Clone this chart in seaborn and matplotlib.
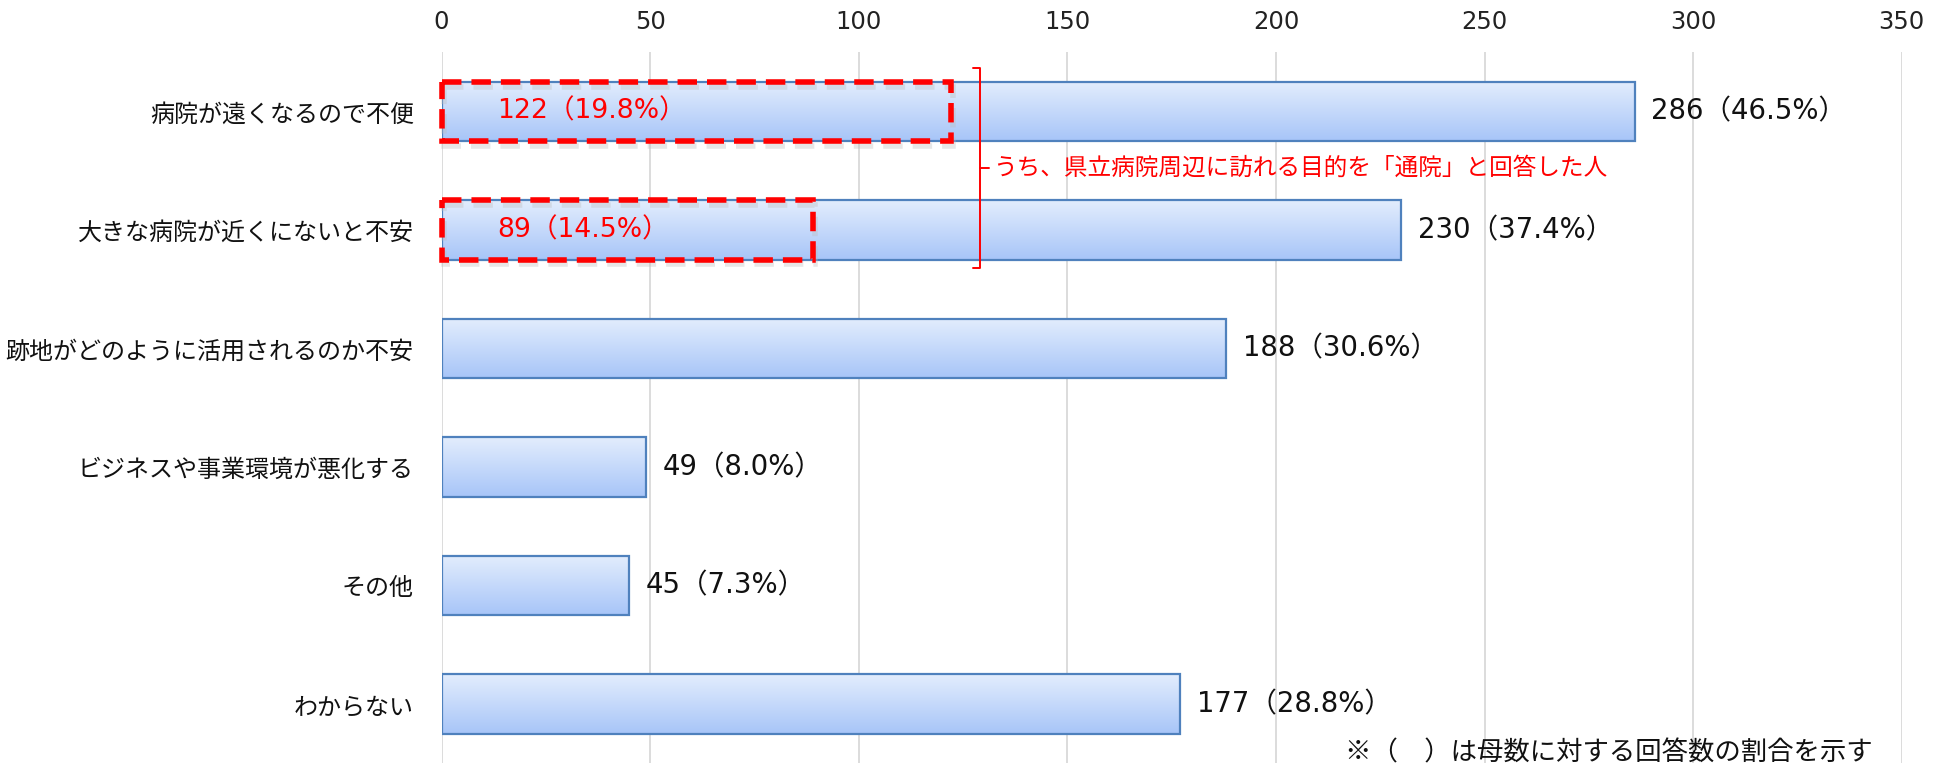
import numpy as np
import pandas as pd
import matplotlib
matplotlib.use("Agg")
import matplotlib.pyplot as plt
from matplotlib.patches import Rectangle
from matplotlib.colors import LinearSegmentedColormap
import seaborn as sns

# ---- data ----
categories = ["病院が遠くなるので不便", "大きな病院が近くにないと不安",
              "跡地がどのように活用されるのか不安", "ビジネスや事業環境が悪化する",
              "その他", "わからない"]
counts = [286, 230, 188, 49, 45, 177]
percents = [46.5, 37.4, 30.6, 8.0, 7.3, 28.8]
sub_counts = [122, 89]
sub_percents = [19.8, 14.5]
x_ticks = [0, 50, 100, 150, 200, 250, 300, 350]
bracket_note = "うち、県立病院周辺に訪れる目的を「通院」と回答した人"
footnote = "※（　）は母数に対する回答数の割合を示す"

sns.set_theme(style="white")
plt.rcParams["font.family"] = ["DejaVu Sans", "Noto Sans CJK JP"]

df = pd.DataFrame({"category": categories, "count": counts})

fig = plt.figure(figsize=(19.35, 7.64), dpi=100)
ax = fig.add_axes([0.2282, 0.001, 0.7546, 0.9306])

sns.barplot(data=df, y="category", x="count", orient="h", ax=ax,
            width=0.5, color="#c4d8fb", edgecolor="#4f81bd", linewidth=1.6,
            zorder=3)

# gradient fill for each bar
grad_cmap = LinearSegmentedColormap.from_list("g", ["#e3edfd", "#a7c5f8"])
grad = np.linspace(0, 1, 256).reshape(-1, 1)
for p in ax.patches:
    x0, y0 = p.get_x(), p.get_y()
    w, h = p.get_width(), p.get_height()
    im = ax.imshow(grad, cmap=grad_cmap, aspect="auto",
                   extent=[x0, x0 + w, y0 + h, y0], origin="upper",
                   zorder=3.5, interpolation="bilinear")
    im.set_clip_path(p)
    p.set_facecolor("none")
    p.set_zorder(4)

ax.set_xlim(0, 350)
ax.set_ylim(5.5, -0.5)
ax.set_xticks(x_ticks)
ax.xaxis.tick_top()
ax.tick_params(axis="x", length=0, pad=13, labelsize=17.5, colors="#222222")
ax.tick_params(axis="y", length=0, pad=20)
for lab in ax.get_yticklabels():
    lab.set_fontfamily(["Noto Sans CJK JP", "DejaVu Sans"])
    lab.set_fontsize(17.3)
    lab.set_color("#111111")
ax.set_xlabel("")
ax.set_ylabel("")
for s in ax.spines.values():
    s.set_visible(False)
ax.grid(axis="x", color="#d9d9d9", linewidth=1.3, zorder=0)
ax.grid(axis="y", visible=False)
ax.set_axisbelow(True)

# value labels
for i, (c, pc) in enumerate(zip(counts, percents)):
    ax.annotate(f"{c}（{pc:.1f}%）", xy=(c, i), xytext=(12, 0),
                textcoords="offset points", va="center", ha="left",
                fontsize=19.8, color="#111111",
                family=["DejaVu Sans", "Noto Sans CJK JP"], zorder=6)

# red dashed boxes with sub-values
for i, (sc, sp) in enumerate(zip(sub_counts, sub_percents)):
    sh = Rectangle((0.6, i - 0.25 + 0.04), sc, 0.5, fill=False,
                   edgecolor="#bbbbbb", linewidth=4.0, alpha=0.35,
                   linestyle=(0, (3.5, 1.8)), zorder=4.5, clip_on=False)
    ax.add_patch(sh)
    r = Rectangle((0, i - 0.25), sc, 0.5, fill=False, edgecolor="#ff0000",
                  linewidth=4.0, linestyle=(0, (3.5, 1.8)), zorder=5,
                  clip_on=False)
    ax.add_patch(r)
    ax.annotate(f"{sc}（{sp:.1f}%）", xy=(0, i), xytext=(40, 0),
                textcoords="offset points", va="center", ha="left",
                fontsize=19.2, color="#ff0000",
                family=["DejaVu Sans", "Noto Sans CJK JP"], zorder=6)

# bracket
bx = 129.0
ytop, ybot, ymid = -0.37, 1.32, 0.48
ax.plot([bx - 1.7, bx, bx, bx - 1.7], [ytop, ytop, ybot, ybot],
        color="#ff0000", linewidth=1.4, zorder=6, clip_on=False)
ax.plot([bx, bx + 2.2], [ymid, ymid], color="#ff0000", linewidth=1.4,
        zorder=6, clip_on=False)
ax.text(bx + 3.3, ymid, bracket_note, va="center", ha="left", fontsize=17,
        color="#ff0000", family=["Noto Sans CJK JP", "DejaVu Sans"], zorder=6)

# footnote
fig.text(0.968, 0.015, footnote, ha="right", va="center", fontsize=19,
         color="#111111", family=["Noto Sans CJK JP", "DejaVu Sans"])

fig.savefig("out.png", dpi=100, facecolor="white")
